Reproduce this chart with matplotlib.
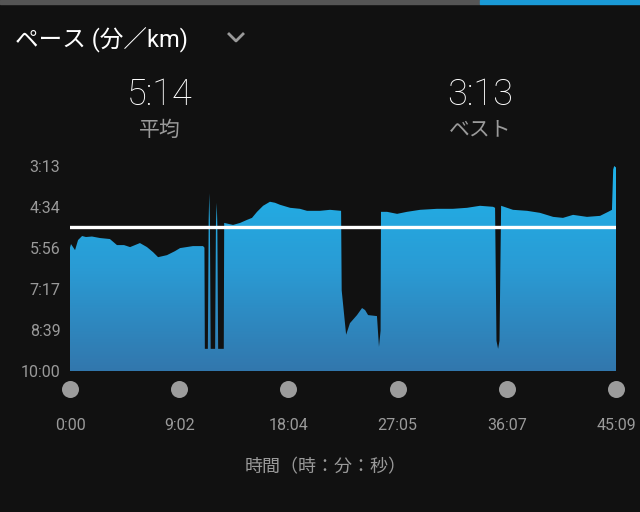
import numpy as np
import matplotlib.pyplot as plt
from matplotlib.colors import LinearSegmentedColormap
from matplotlib.transforms import blended_transform_factory
from matplotlib.lines import Line2D
from matplotlib.patches import Rectangle

plt.rcParams['font.family'] = ['Roboto', 'Noto Sans CJK JP', 'DejaVu Sans']

# elapsed time (s) and pace (s per km)
t = [0, 5, 25, 40, 60, 79, 109, 149, 198, 233, 268, 298, 347, 382, 412, 437,
     481, 521, 546, 610, 660, 667,
     669, 684, 688, 691, 694, 698, 720, 724, 728, 731, 735, 763,
     765, 809, 844, 878, 903, 928, 958, 992, 1017, 1042, 1092, 1141, 1176,
     1216, 1240, 1290, 1345,
     1348, 1370, 1389, 1424, 1449, 1464, 1479, 1523, 1533, 1541,
     1543, 1573, 1623, 1672, 1737, 1821, 1900, 1970, 2034, 2099, 2109,
     2116, 2124, 2131,
     2139, 2198, 2268, 2332, 2397, 2446, 2496, 2565, 2630, 2670, 2689,
     2695, 2700, 2709]
pace = [355, 348, 360, 340, 332, 334, 333, 336, 338, 350, 350, 354, 346, 354, 364, 374,
        370, 362, 356, 352, 352, 355,
        556, 556, 300, 247, 300, 556, 556, 310, 266, 310, 556, 556,
        306, 310, 306, 300, 296, 284, 272, 264, 266, 270, 276, 278, 282,
        282, 282, 280, 282,
        440, 528, 505, 489, 475, 479, 489, 491, 552, 520,
        284, 284, 288, 284, 280, 278, 278, 276, 272, 274, 276,
        540, 556, 540,
        272, 280, 282, 286, 294, 296, 290, 294, 292, 284, 280,
        200, 193, 196]

avg_pace = 314
y_ticks = [193, 274, 356, 437, 519, 600]
y_labels = ["3:13", "4:34", "5:56", "7:17", "8:39", "10:00"]
x_ticks = [0, 542, 1084, 1625, 2167, 2709]
x_labels = ["0:00", "9:02", "18:04", "27:05", "36:07", "45:09"]

bg = "#111111"
fig = plt.figure(figsize=(6.4, 5.12), dpi=100, facecolor=bg)
ax = fig.add_axes([70/640, 1-371/512, 546/640, 205/512], facecolor=bg)

# gradient fill under the pace curve
poly = ax.fill_between(t, pace, 600, color="none", linewidth=0)
cmap = LinearSegmentedColormap.from_list("pace", ["#1fb3ea", "#2a9bd4", "#3277ad"])
grad = np.linspace(0, 1, 256).reshape(-1, 1)
img = ax.imshow(grad, cmap=cmap, aspect="auto", extent=[0, 2709, 600, 193],
                origin="upper", zorder=1)
img.set_clip_path(poly.get_paths()[0], transform=ax.transData)

ax.axhline(avg_pace, color="white", linewidth=2.4, zorder=3)

ax.set_xlim(0, 2709)
ax.set_ylim(600, 193)
for s in ax.spines.values():
    s.set_visible(False)

ax.set_yticks(y_ticks, y_labels)
ax.set_xticks(x_ticks, x_labels)
ax.tick_params(axis="y", length=0, pad=7, labelsize=11.5, labelcolor="#9a9a9a")
ax.tick_params(axis="x", length=0, pad=34, labelsize=11.5, labelcolor="#9a9a9a")

# dots under each x tick
tr = blended_transform_factory(ax.transData, ax.transAxes)
ax.scatter(x_ticks, [-18/205]*len(x_ticks), s=150, color="#9c9c9c",
           transform=tr, clip_on=False, zorder=4, linewidths=0)

# header texts
fig.text(15/640, 1-40/512, "ペース (分／km)", color="white", fontsize=17,
         va="center", ha="left")
fig.add_artist(Line2D([229/640, 236/640, 243/640], [1-34/512, 1-41/512, 1-34/512],
                      color="#9a9a9a", linewidth=2, transform=fig.transFigure))
fig.text(160/640, 1-95/512, "5:14", color="white", fontsize=26, fontweight="light",
         ha="center", va="center")
fig.text(160/640, 1-130/512, "平均", color="#9a9a9a", fontsize=15,
         ha="center", va="center")
fig.text(480/640, 1-95/512, "3:13", color="white", fontsize=26, fontweight="light",
         ha="center", va="center")
fig.text(480/640, 1-130/512, "ベスト", color="#9a9a9a", fontsize=15,
         ha="center", va="center")
fig.text(326/640, 1-467/512, "時間（時：分：秒）", color="#9a9a9a", fontsize=13,
         ha="center", va="center")

# top tab indicator
fig.add_artist(Rectangle((0, 1-4/512), 480/640, 4/512, color="#555555",
                         transform=fig.transFigure))
fig.add_artist(Rectangle((480/640, 1-4/512), 160/640, 4/512, color="#1a9ad6",
                         transform=fig.transFigure))

fig.savefig("out.png", dpi=100, facecolor=bg)
